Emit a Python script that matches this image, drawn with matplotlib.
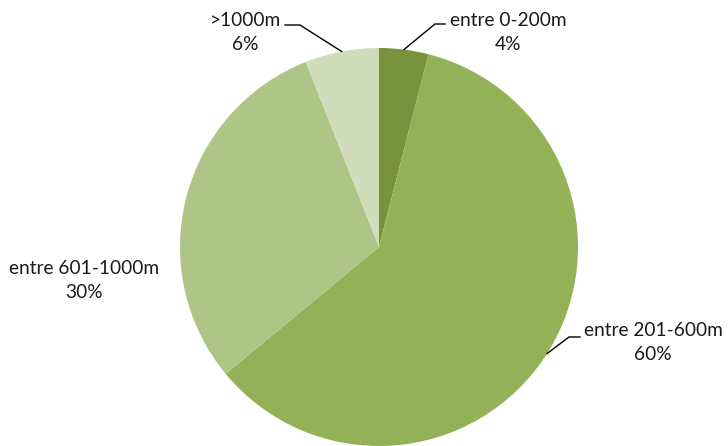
import numpy as np
import matplotlib
matplotlib.use("Agg")
import matplotlib.pyplot as plt

plt.rcParams['font.family'] = ['Lato', 'DejaVu Sans']

# data
categories = ['entre 0-200m', 'entre 201-600m', 'entre 601-1000m', '>1000m']
shares = [4, 60, 30, 6]
colors = ['#77933C', '#93B157', '#ADC586', '#D0DDBA']

# label layout in pixels: (text centre x, text centre y, elbow x, elbow y, end x)
W, H = 728, 446
CX, CY, R = 379, 247, 199
label_layout = [
    (508, 32, 435, 24, 445),
    (653, 343, 569, 337, 580),
    (84, 281, None, None, None),
    (245, 32, 300, 25, 285),
]


def to_data(px, py):
    return (px - CX) / R, (CY - py) / R


fig = plt.figure(figsize=(W / 100, H / 100), dpi=100)
ax = fig.add_axes([(CX - R) / W, (H - CY - R) / H, 2 * R / W, 2 * R / H])
ax.axis('off')

wedges, _ = ax.pie(shares, colors=colors, startangle=90, counterclock=False,
                   radius=1, center=(0, 0), frame=False)
ax.set_xlim(-1, 1)
ax.set_ylim(-1, 1)
ax.set_aspect('equal')

for wedge, name, val, lay in zip(wedges, categories, shares, label_layout):
    tx, ty, ex, ey, endx = lay
    mid = np.deg2rad((wedge.theta1 + wedge.theta2) / 2)
    x0, y0 = np.cos(mid), np.sin(mid)
    if ex is not None:
        x1, y1 = to_data(ex, ey)
        x2, _ = to_data(endx, ey)
        ax.plot([x0, x1, x2], [y0, y1, y1], color='black', lw=1, clip_on=False)
    lx, ly = to_data(tx, ty)
    ax.text(lx, ly, f'{name}\n{val}%', ha='center', va='center', fontsize=13.8,
            linespacing=1.5, color='#1a1a1a', clip_on=False)

fig.savefig('out.png', dpi=100)
